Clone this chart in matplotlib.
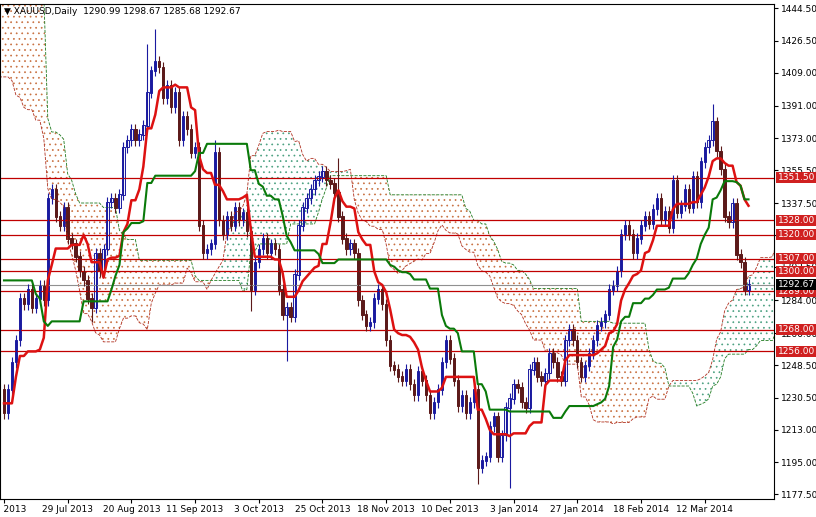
import numpy as np
import pandas as pd
import matplotlib
matplotlib.use("Agg")
import matplotlib.pyplot as plt

plt.rcParams["hatch.linewidth"] = 0.5

# Pre-history (Apr-Jul 2013) only used to seed the Ichimoku cloud
pre_closes = [1600, 1598, 1595, 1580, 1575, 1585, 1578, 1560, 1555, 1565, 1560, 1478, 1380,
              1360, 1370, 1392, 1395, 1422, 1425, 1430, 1408, 1420, 1465, 1475, 1475, 1450,
              1460, 1465, 1470, 1445, 1440, 1430, 1425, 1435, 1390, 1365, 1375, 1385, 1380,
              1390, 1412, 1400, 1410, 1392, 1390, 1388, 1400, 1412, 1395, 1380, 1382, 1385,
              1390, 1380, 1372, 1365, 1375, 1385, 1385, 1390, 1375, 1370, 1345, 1290, 1278,
              1295, 1275, 1270, 1232, 1225, 1210, 1200, 1234, 1245, 1250, 1255, 1250, 1235]

# Visible daily closes, 5 Jul 2013 .. 21 Mar 2014
closes = [1222, 1235, 1250, 1262, 1285, 1282, 1290, 1280, 1285, 1292,
          1284, 1340, 1345, 1330, 1325, 1335, 1318, 1315, 1308, 1300,
          1295, 1285, 1280, 1310, 1300, 1312, 1338, 1340, 1335, 1342,
          1368, 1372, 1378, 1372, 1375, 1380, 1398, 1410, 1415, 1412,
          1395, 1402, 1390, 1398, 1372, 1385, 1378, 1365, 1368, 1325,
          1310, 1312, 1315, 1365, 1328, 1320, 1330, 1325, 1335, 1328,
          1332, 1322, 1290, 1305, 1312, 1318, 1310, 1315, 1312, 1290,
          1276, 1280, 1275, 1298, 1325, 1335, 1340, 1345, 1350, 1352,
          1355, 1350, 1348, 1343, 1330, 1318, 1312, 1315, 1310, 1284,
          1276, 1270, 1272, 1285, 1290, 1282, 1262, 1248, 1246, 1242,
          1240, 1246, 1238, 1232, 1245, 1240, 1232, 1222, 1228, 1235,
          1250, 1262, 1252, 1240, 1226, 1232, 1222, 1228, 1235, 1192,
          1196, 1198, 1215, 1220, 1198, 1210, 1225, 1230, 1238, 1236,
          1228, 1225, 1246, 1250, 1242, 1240, 1244, 1255, 1250, 1242,
          1240, 1262, 1268, 1262, 1250, 1242, 1248, 1255, 1262, 1270,
          1272, 1276, 1290, 1292, 1300, 1320, 1325, 1320, 1310, 1318,
          1325, 1330, 1326, 1334, 1340, 1328, 1333, 1324, 1350, 1332,
          1336, 1345, 1335, 1352, 1338, 1360, 1368, 1372, 1382, 1366,
          1356, 1330, 1327, 1337, 1309, 1305, 1290, 1292.67]

# notable wick extremes (bar index -> price)
spike_highs = {38: 1433, 36: 1425, 178: 1392, 84: 1362, 53: 1372}
spike_lows = {71: 1251, 119: 1183, 127: 1181, 22: 1272, 62: 1278}

levels = [1351.5, 1328.0, 1320.0, 1307.0, 1300.0, 1289.0, 1268.0, 1256.0]
last_price = 1292.67
price_ticks = [1444.5, 1426.5, 1409.0, 1391.0, 1373.0, 1355.5, 1337.5, 1320.0,
               1302.5, 1284.0, 1266.0, 1248.5, 1230.5, 1213.0, 1195.0, 1177.5]
date_labels = ["5 Jul 2013", "29 Jul 2013", "20 Aug 2013", "11 Sep 2013", "3 Oct 2013",
               "25 Oct 2013", "18 Nov 2013", "10 Dec 2013", "3 Jan 2014", "27 Jan 2014",
               "18 Feb 2014", "12 Mar 2014"]

allc = np.array(pre_closes + closes, dtype=float)
opens = np.r_[allc[0], allc[:-1]]
highs = np.maximum(opens, allc) + 3
lows = np.minimum(opens, allc) - 3
npre = len(pre_closes)
for k, v in spike_highs.items():
    highs[npre + k] = v
for k, v in spike_lows.items():
    lows[npre + k] = v

df = pd.DataFrame({"o": opens, "h": highs, "l": lows, "c": allc})
tenkan = (df.h.rolling(9).max() + df.l.rolling(9).min()) / 2
kijun = (df.h.rolling(26).max() + df.l.rolling(26).min()) / 2
raw_a = (tenkan + kijun) / 2
raw_b = (df.h.rolling(52).max() + df.l.rolling(52).min()) / 2

x = np.arange(len(df)) - npre
vis = x >= 0
# spans are shifted 26 bars forward
xa = np.r_[x, x[-1] + 1 + np.arange(26)]
sa = np.r_[raw_a.shift(26).values, raw_a.values[-26:]]
sb = np.r_[raw_b.shift(26).values, raw_b.values[-26:]]

fig = plt.figure(figsize=(8.16, 5.17), dpi=100)
ax = fig.add_axes([0.0, 0.035, 0.949, 0.958])

up_col, dn_col = "#1a1aa0", "#5c1a1a"
m = xa >= -2
ax.fill_between(xa[m], sa[m], sb[m], where=sa[m] >= sb[m], facecolor="none",
                edgecolor="#4aa080", hatch="...", linewidth=0, interpolate=True)
ax.fill_between(xa[m], sa[m], sb[m], where=sa[m] < sb[m], facecolor="none",
                edgecolor="#c87040", hatch="...", linewidth=0, interpolate=True)
ax.plot(xa[m], sa[m], color="#b03020", lw=0.6, ls="--")
ax.plot(xa[m], sb[m], color="#1e7a1e", lw=0.6, ls="--")

for lv in levels:
    ax.axhline(lv, color="#c00000", lw=0.9)
ax.axhline(last_price, color="#909090", lw=0.8)

xv = x[vis]
o, h, l, c = df.o.values[vis], df.h.values[vis], df.l.values[vis], df.c.values[vis]
bull = c >= o
cols = np.where(bull, up_col, dn_col)
ax.vlines(xv, l, h, colors=cols, lw=0.8)
ax.bar(xv, np.abs(c - o) + 0.3, bottom=np.minimum(o, c), width=0.6,
       color=np.where(bull, "white", dn_col), edgecolor=cols, linewidth=0.7)

ax.plot(xv, tenkan.values[vis], color="#dd1111", lw=1.8)
ax.plot(xv, kijun.values[vis], color="#0a7a0a", lw=1.5)

ax.set_xlim(-1, 193.5)
ax.set_ylim(1175, 1447)
ax.yaxis.tick_right()
ax.set_yticks(price_ticks)
ax.set_yticklabels([f"{t:.2f}" for t in price_ticks], fontsize=6.5)
ax.set_xticks(np.arange(len(date_labels)) * 16)
ax.set_xticklabels(date_labels, fontsize=6.5, ha="center")
ax.tick_params(length=3, pad=1.5)
for lv in levels:
    ax.text(1.004, lv, f"{lv:.2f}", transform=ax.get_yaxis_transform(), fontsize=6.5,
            color="white", va="center", ha="left",
            bbox=dict(boxstyle="square,pad=0.12", fc="#d02020", ec="none"))
ax.text(1.004, last_price, f"{last_price:.2f}", transform=ax.get_yaxis_transform(),
        fontsize=6.5, color="white", va="center", ha="left",
        bbox=dict(boxstyle="square,pad=0.12", fc="black", ec="none"))
ax.text(0.005, 0.993, "\u25bc XAUUSD,Daily  1290.99 1298.67 1285.68 1292.67",
        transform=ax.transAxes, fontsize=6.5, va="top")

fig.savefig("out.png", dpi=100)
